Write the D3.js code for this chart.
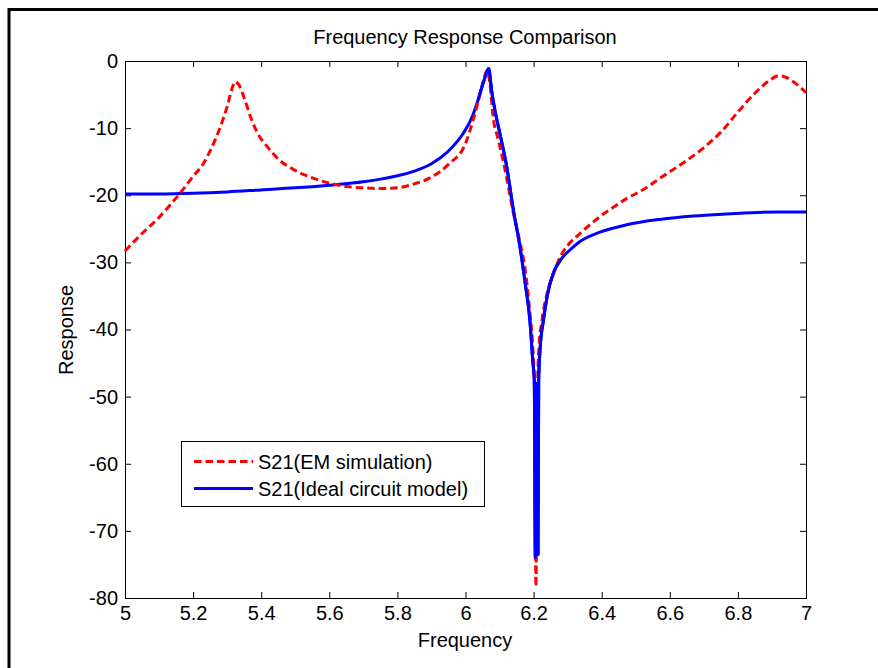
<!DOCTYPE html>
<html>
<head>
<meta charset="utf-8">
<script src="https://cdn.jsdelivr.net/npm/d3@7"></script>
<style>
  body { margin: 0; background: #fff; }
  text { font-family: "Liberation Sans", Arial, sans-serif; }
</style>
</head>
<body>
<div id="chart"></div>
<script>
const xTicks = [5, 5.2, 5.4, 5.6, 5.8, 6, 6.2, 6.4, 6.6, 6.8, 7]
const yTicks = [0, -10, -20, -30, -40, -50, -60, -70, -80]

// S21 (EM simulation)
const emFreq = [5.00, 5.05, 5.10, 5.13, 5.16, 5.20, 5.23, 5.25, 5.28, 5.30, 5.315, 5.323, 5.335, 5.35, 5.37, 5.39,
  5.42, 5.45, 5.50, 5.55, 5.60, 5.65, 5.70, 5.75, 5.80, 5.85, 5.90, 5.95, 6.00, 6.02, 6.04, 6.055, 6.063,
  6.072, 6.081, 6.095, 6.11, 6.125, 6.14, 6.16, 6.175, 6.19, 6.198, 6.203, 6.207, 6.211, 6.216, 6.225, 6.24,
  6.26, 6.28, 6.30, 6.336, 6.37, 6.405, 6.44, 6.473, 6.51, 6.542, 6.57, 6.60, 6.65, 6.70, 6.75, 6.80, 6.85,
  6.89, 6.92, 6.94, 6.963, 7.00]
const emResp = [-28.3, -25.7, -23.3, -21.6, -19.8, -17.2, -15.3, -13.4, -9.8, -6.8, -4.0, -3.1, -3.6, -5.5, -8.5, -10.8,
  -12.9, -14.6, -16.3, -17.4, -18.2, -18.7, -18.9, -19.0, -18.9, -18.3, -17.3, -15.4, -12.3, -9.2, -5.5, -2.5, -1.4,
  -3.5, -8.3, -11.5, -14.7, -18.5, -22.5, -27.0, -31.0, -38.0, -43.0, -50.0, -78.3, -50.0, -42.5, -38.5, -34.5,
  -31.5, -29.0, -27.5, -25.7, -24.2, -22.8, -21.6, -20.5, -19.5, -18.5, -17.5, -16.5, -14.8, -12.9, -10.6, -7.6, -4.8,
  -3.0, -2.2, -2.4, -3.1, -4.7]

// S21 (Ideal circuit model)
const modelFreq = [5.00, 5.10, 5.20, 5.30, 5.40, 5.50, 5.60, 5.70, 5.75, 5.80, 5.85, 5.90, 5.95, 5.993, 6.018, 6.037,
  6.055, 6.068, 6.077, 6.087, 6.101, 6.121, 6.14, 6.16, 6.175, 6.189, 6.198, 6.202, 6.205, 6.207, 6.209, 6.211,
  6.213, 6.215, 6.219, 6.229, 6.24, 6.258, 6.28, 6.317, 6.336, 6.395, 6.473, 6.571, 6.669, 6.767, 6.914, 7.00]
const modelResp = [-19.8, -19.8, -19.7, -19.5, -19.2, -18.9, -18.5, -18.0, -17.6, -17.1, -16.4, -15.3, -13.4, -10.8, -8.5, -5.8,
  -2.8, -1.1, -4.5, -7.5, -10.8, -15.7, -22.0, -27.7, -33.0, -38.6, -45.0, -47.5, -74, -48, -73, -48,
  -73.5, -47.5, -43, -38.6, -35.0, -31.6, -29.6, -27.7, -26.9, -25.5, -24.4, -23.6, -23.1, -22.8, -22.5, -22.5]

const width = 878
const height = 668
const plot = {left: 125, right: 806, top: 61, bottom: 598}

const svg = d3.select("#chart").append("svg")
  .attr("width", width)
  .attr("height", height)

// outer figure frame
svg.append("rect")
  .attr("x", 9).attr("y", 9.5)
  .attr("width", 1000).attr("height", 1000)
  .attr("fill", "none").attr("stroke", "#000").attr("stroke-width", 3)

const x = d3.scaleLinear().domain([5, 7]).range([plot.left, plot.right])
const y = d3.scaleLinear().domain([-80, 0]).range([plot.bottom, plot.top])

const fmt = d => String(+d.toFixed(1))

function styleAxis(g) {
  g.select(".domain").remove()
  g.selectAll(".tick line").attr("stroke", "#000")
  g.selectAll(".tick text").attr("fill", "#000").style("font-size", "20px")
}

svg.append("g")
  .attr("transform", `translate(0,${plot.bottom})`)
  .call(d3.axisBottom(x).tickValues(xTicks).tickFormat(fmt).tickSize(-6).tickPadding(8))
  .call(styleAxis)

svg.append("g")
  .attr("transform", `translate(0,${plot.top})`)
  .call(d3.axisTop(x).tickValues(xTicks).tickFormat("").tickSize(-6))
  .call(styleAxis)

svg.append("g")
  .attr("transform", `translate(${plot.left},0)`)
  .call(d3.axisLeft(y).tickValues(yTicks).tickFormat(fmt).tickSize(-6).tickPadding(7))
  .call(styleAxis)

svg.append("g")
  .attr("transform", `translate(${plot.right},0)`)
  .call(d3.axisRight(y).tickValues(yTicks).tickFormat("").tickSize(-6))
  .call(styleAxis)

svg.append("rect")
  .attr("x", plot.left + 0.5).attr("y", plot.top + 0.5)
  .attr("width", plot.right - plot.left).attr("height", plot.bottom - plot.top)
  .attr("fill", "none").attr("stroke", "#000")

const line = d3.line()
  .curve(d3.curveMonotoneX)
  .x(d => x(d[0]))
  .y(d => y(d[1]))

const modelPts = modelFreq.map((f, i) => [f, modelResp[i]])
const emPts = emFreq.map((f, i) => [f, emResp[i]])

svg.append("path")
  .datum(modelPts)
  .attr("d", line)
  .attr("fill", "none").attr("stroke", "#0000ff").attr("stroke-width", 3)
  .attr("stroke-linejoin", "round")

svg.append("path")
  .datum(emPts)
  .attr("d", line)
  .attr("fill", "none").attr("stroke", "#ff0000").attr("stroke-width", 3)
  .attr("stroke-dasharray", "7.5,4")

// blue drawn again over the resonance so it covers the red like in the reference
svg.append("path")
  .datum(modelPts.filter(d => d[0] > 6.03 && d[0] < 6.3))
  .attr("d", line)
  .attr("fill", "none").attr("stroke", "#0000ff").attr("stroke-width", 3)
  .attr("stroke-linejoin", "round")

// titles
svg.append("text")
  .attr("x", 465).attr("y", 44)
  .attr("text-anchor", "middle").style("font-size", "20px")
  .text("Frequency Response Comparison")

svg.append("text")
  .attr("x", 465).attr("y", 647)
  .attr("text-anchor", "middle").style("font-size", "20px")
  .text("Frequency")

svg.append("text")
  .attr("transform", "translate(73,330) rotate(-90)")
  .attr("text-anchor", "middle").style("font-size", "20px")
  .text("Response")

// legend
const legend = svg.append("g")
legend.append("rect")
  .attr("x", 181.5).attr("y", 441.5).attr("width", 303).attr("height", 65)
  .attr("fill", "#fff").attr("stroke", "#000")

const entries = [
  {label: "S21(EM simulation)", color: "#ff0000", dash: "7.5,4", yy: 461.5},
  {label: "S21(Ideal circuit model)", color: "#0000ff", dash: null, yy: 488.5}
]
entries.forEach(e => {
  legend.append("line")
    .attr("x1", 194).attr("x2", 253).attr("y1", e.yy).attr("y2", e.yy)
    .attr("stroke", e.color).attr("stroke-width", 3)
    .attr("stroke-dasharray", e.dash)
  legend.append("text")
    .attr("x", 258).attr("y", e.yy).attr("dy", "0.36em")
    .style("font-size", "20px")
    .text(e.label)
})
</script>
</body>
</html>
